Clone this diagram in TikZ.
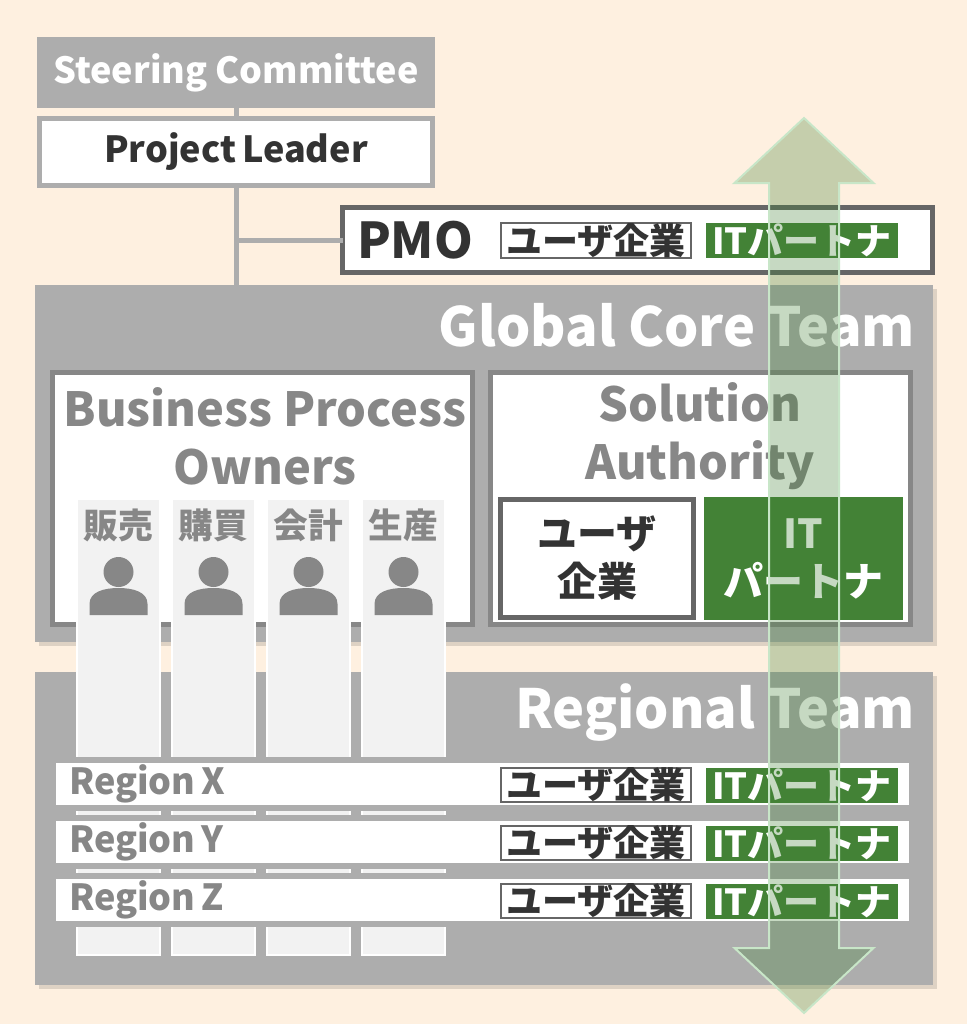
\documentclass[tikz,border=0pt]{standalone}
\usepackage{fontspec}
\setmainfont{Noto Sans CJK JP}
\usetikzlibrary{calc}
\definecolor{bgpeach}{RGB}{254,240,224}
\definecolor{boxgray}{RGB}{173,173,173}
\definecolor{midgray}{RGB}{135,135,135}
\definecolor{pmogray}{RGB}{102,102,102}
\definecolor{textdark}{RGB}{51,51,51}
\definecolor{itgreen}{RGB}{67,130,54}
\definecolor{colgray}{RGB}{242,242,242}
\definecolor{mint}{RGB}{200,230,200}
\definecolor{shadowc}{RGB}{222,210,196}
\begin{document}
\begin{tikzpicture}[x=0.75pt,y=0.75pt,yscale=-1,xscale=1,
  every node/.style={inner sep=0pt, outer sep=0pt},
  steerbox/.style={fill=boxgray, minimum width=298.5pt, minimum height=53.25pt, text=white, font=\fontsize{27}{32}\selectfont\bfseries},
  leadbox/.style={draw=boxgray, line width=3.75pt, fill=white, minimum width=294.75pt, minimum height=50.25pt, text=textdark, font=\fontsize{27}{32}\selectfont\bfseries},
  pmobox/.style={draw=pmogray, line width=3.75pt, fill=white, minimum width=442.5pt, minimum height=48.75pt},
  teambox/.style={fill=boxgray, minimum width=673.5pt},
  teamtxt/.style={anchor=east, text=white, font=\fontsize{40.5}{48}\selectfont\bfseries},
  subbox/.style={draw=midgray, line width=3.75pt, fill=white, minimum width=315pt, minimum height=189pt},
  subtxt/.style={align=center, text=midgray, font=\fontsize{35.2}{43.5}\selectfont\bfseries},
  usertag/.style={draw=pmogray, line width=1.5pt, fill=white, minimum width=142.5pt, minimum height=24.75pt, text=textdark, font=\fontsize{27}{32}\selectfont\bfseries},
  ittag/.style={fill=itgreen, minimum width=144pt, minimum height=26.25pt, text=white, font=\fontsize{27}{32}\selectfont\bfseries},
  colbox/.style={fill=colgray, draw=white, line width=1pt, minimum width=62.25pt, minimum height=342pt},
  coltxt/.style={text=midgray, font=\fontsize{26}{30}\selectfont\bfseries},
  regionbar/.style={draw=boxgray, line width=4.5pt, fill=white, minimum width=644.25pt, minimum height=36pt},
  regiontxt/.style={anchor=west, text=midgray, font=\fontsize{27}{32}\selectfont\bfseries},
  conn/.style={draw=boxgray, line width=3.75pt},
  bigarrow/.style={fill=itgreen, fill opacity=0.3, draw=mint, draw opacity=1, line width=1.5pt, line join=miter}
  ]
%Background
\fill[bgpeach] (0,0) rectangle (967,1024);
\useasboundingbox (0,0) rectangle (967,1024);
%Top boxes
\node[steerbox] (steer) at (236,72.5) {Steering Committee};
\node[leadbox] (leader) at (236,152) {Project\,Leader};
\node[pmobox] (pmo) at (637.5,240) {};
\node[anchor=west, text=textdark, font=\fontsize{37}{44}\selectfont\bfseries] (pmotxt) at (357,240) {PMO};
\node[usertag] (pmouser) at (596,240.5) {ユーザ企業};
\node[ittag] (pmoit) at (802,240.5) {ITパートナ};
%Shadows
\fill[shadowc] (39,289) rectangle (937,646);
\fill[shadowc] (39,676) rectangle (937,989);
%Global Core Team
\node[teambox, minimum height=267.75pt] (gct) at (484,463.5) {};
\node[teamtxt] (gcttxt) at (915,325) {Global Core Team};
%Regional Team
\node[teambox, minimum height=234.75pt] (rt) at (484,828.5) {};
\node[teamtxt] (rttxt) at (915,713) {Regional Team};
%Connectors
\draw[conn] (steer.south) -- (leader.north);
\draw[conn] (leader.south) -- (leader.south |- gct.north);
\draw[conn] (leader.south |- pmo.west) -- (pmo.west);
%Business Process Owners
\node[subbox] (bpo) at (262.5,498.5) {};
\node[subtxt] (bpotxt) at (265,436) {Business Process\\Owners};
%Solution Authority
\node[subbox] (sa) at (700,498.5) {};
\node[subtxt] (satxt) at (700,436) {Solution\\Authority};
\node[draw=pmogray, line width=3.75pt, fill=white, minimum width=144.75pt, minimum height=88.5pt, align=center, text=textdark, font=\fontsize{30}{36}\selectfont\bfseries] (sauser) at (597,558.5) {ユーザ\\企業};
\node[fill=itgreen, minimum width=149.25pt, minimum height=92.25pt, align=center, text=white, font=\fontsize{30}{36}\selectfont\bfseries] (sait) at (803.5,558.5) {IT\\パートナ};
%Columns
\foreach \i/\lab in {0/販売,1/購買,2/会計,3/生産}{
  \pgfmathsetmacro{\cx}{118.5+95*\i}
  \node[colbox] (col\i) at (\cx,727) {};
  \node[coltxt] (lab\i) at (\cx,525) {\lab};
  \fill[midgray] (\cx,572) circle[radius=15];
  \fill[midgray] (\cx-29,615) -- (\cx-29,604) .. controls (\cx-29,592) and (\cx-15,588) .. (\cx,588) .. controls (\cx+15,588) and (\cx+29,592) .. (\cx+29,604) -- (\cx+29,615) -- cycle;
}
%Regions
\foreach \r/\y in {X/784,Y/842,Z/900}{
  \node[regionbar] (reg\r) at (482.5,\y) {};
  \node[regiontxt] (reg\r txt) at (69,\y) {Region\,\r};
  \node[usertag] (reg\r user) at (596,\y+1) {ユーザ企業};
  \node[ittag] (reg\r it) at (802,\y+1) {ITパートナ};
}
%Double arrow
\draw[bigarrow] (804,118) -- (873.5,183) -- (839,183) -- (839,948) -- (873.5,948) -- (804,1013) -- (734.5,948) -- (769,948) -- (769,183) -- (734.5,183) -- cycle;
\end{tikzpicture}
\end{document}
